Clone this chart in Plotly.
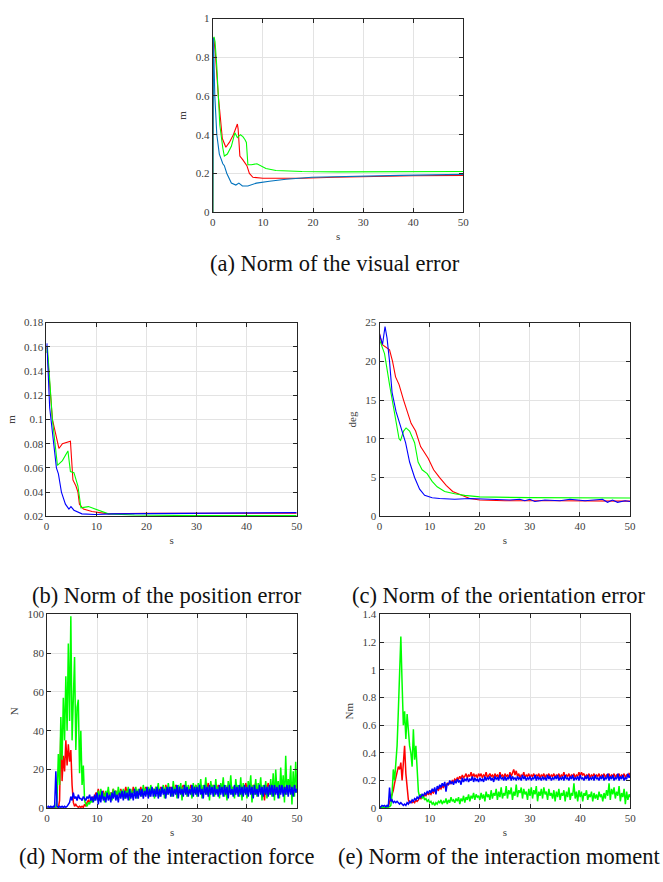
import plotly.graph_objects as go

# ---------------- data ----------------
# (a) visual error norm
va_red_t = [0, 0.04, 0.2, 0.5, 1.1, 1.6, 1.9, 2.6, 3.3, 4.1, 4.9, 5.05, 5.4, 6.0, 6.8, 7.3, 8.0, 10, 17.8, 24.4, 31, 40, 50]
va_red_v = [0, 0.88, 0.9, 0.82, 0.6, 0.45, 0.38, 0.335, 0.36, 0.4, 0.455, 0.43, 0.29, 0.27, 0.24, 0.2, 0.18, 0.175, 0.175, 0.18, 0.185, 0.188, 0.19]
va_grn_t = [0, 0.04, 0.25, 0.45, 0.8, 1.1, 1.4, 2.0, 2.3, 2.9, 3.7, 4.4, 4.9, 5.5, 6.0, 6.4, 6.7, 7.0, 7.7, 8.8, 9.6, 10.6, 12.6, 17.8, 25, 38, 50]
va_grn_v = [0, 0.89, 0.905, 0.88, 0.75, 0.6, 0.45, 0.33, 0.29, 0.3, 0.34, 0.41, 0.385, 0.4, 0.39, 0.375, 0.36, 0.245, 0.245, 0.25, 0.24, 0.225, 0.215, 0.21, 0.208, 0.21, 0.21]
va_blu_t = [0, 0.04, 0.13, 0.4, 0.8, 1.3, 2.0, 2.3, 2.8, 3.7, 4.6, 5.2, 5.9, 7.0, 8.7, 11.3, 14.6, 19.8, 27.7, 37.5, 50]
va_blu_v = [0, 0.88, 0.9, 0.6, 0.4, 0.3, 0.25, 0.24, 0.2, 0.15, 0.14, 0.15, 0.135, 0.135, 0.15, 0.16, 0.17, 0.18, 0.185, 0.19, 0.195]

# (b) position error norm
pe_red_t = [0, 0.1, 1.2, 2.2, 2.5, 3.2, 4.8, 5.3, 5.9, 6.3, 6.6, 7.4, 9.1, 12.4, 20, 35, 50]
pe_red_v = [0.158, 0.16, 0.1, 0.08, 0.076, 0.08, 0.082, 0.05, 0.045, 0.04, 0.03, 0.026, 0.024, 0.022, 0.0225, 0.0225, 0.0225]
pe_grn_t = [0, 0.2, 1.2, 2.2, 3.2, 4.3, 4.8, 5.5, 6.3, 6.9, 8.4, 10.4, 12.4, 17.6, 30, 50]
pe_grn_v = [0.155, 0.16, 0.1, 0.062, 0.066, 0.074, 0.057, 0.056, 0.045, 0.027, 0.028, 0.025, 0.022, 0.021, 0.0205, 0.0205]
pe_blu_t = [0, 0.1, 0.65, 1.5, 2.0, 2.4, 3.0, 3.8, 4.5, 4.9, 5.5, 7.1, 9.7, 13, 25, 50]
pe_blu_v = [0.16, 0.163, 0.11, 0.08, 0.06, 0.055, 0.04, 0.03, 0.026, 0.028, 0.025, 0.022, 0.0215, 0.022, 0.0225, 0.023]

# (c) orientation error norm
oe_red_t = [0, 0.5, 2, 2.6, 3.2, 3.9, 4.8, 5.6, 6.3, 7.2, 8.2, 9.7, 10.8, 12, 13.3, 14.6, 16, 18, 20, 25, 35, 50]
oe_red_v = [23.6, 22.2, 21.5, 20, 18, 17, 15, 13.5, 12, 11, 9, 7.5, 6, 5, 4, 3.2, 2.8, 2.3, 2.1, 2.0, 2.0, 1.95]
oe_grn_t = [0, 1, 2, 3, 3.9, 4.2, 4.8, 5.3, 6, 7, 7.7, 8.5, 9.5, 10.5, 11.5, 13, 15, 17, 20, 30, 50]
oe_grn_v = [22.8, 21, 17, 13, 10, 9.8, 11, 11.4, 11, 9.5, 7, 6, 5.5, 4.5, 3.8, 3.2, 2.9, 2.7, 2.5, 2.4, 2.35]
oe_blu_t = [0, 0.6, 1.1, 1.5, 2, 2.5, 3.3, 4.3, 5.2, 6, 7, 8, 9, 10.5, 12, 15, 18, 22, 26, 28, 29, 30, 31, 33, 36, 38, 41, 44.5, 45.5, 46.5, 47.5, 49, 50]
oe_blu_v = [23.5, 22.2, 24.5, 23, 20, 16, 13.5, 11.5, 9.5, 7, 5, 3.5, 2.7, 2.4, 2.3, 2.2, 2.3, 2.2, 2.1, 2.2, 2.0, 2.2, 1.9, 2.1, 2.0, 2.2, 2.0, 2.2, 1.8, 2.1, 1.8, 2.0, 1.9]

# (d), (e) sampled every 0.25 s from 0 to 50 s
t_fast = [i * 0.25 for i in range(201)]

force_red = [
    0, 0, 0, 0, 0, 0, 0, 0, 0, 0, 4, 40, 14, 27, 19, 35, 22, 33, 24, 30,
    12, 3, 1, 2, 1, 0.5, 1, 0.5, 1, 0.5, 2, 1, 3, 4, 3, 5, 4, 6, 5, 8,
    7, 10, 6, 8, 5, 9, 6, 8, 7, 9, 6, 8, 7, 10, 6, 9, 7, 8, 6, 10,
    7, 9, 8, 11, 7, 10, 8, 9, 7, 11, 8, 10, 7, 9, 8, 11, 7, 10, 9, 11,
    8, 10, 9, 11, 8, 10, 7, 11, 9, 10, 8, 11, 9, 10, 8, 12, 9, 10, 8, 11,
    9, 11, 8, 12, 9, 10, 8, 11, 10, 12, 9, 11, 8, 10, 9, 12, 10, 11, 8, 12,
    9, 11, 10, 12, 8, 11, 9, 12, 10, 13, 9, 11, 8, 12, 10, 11, 9, 12, 10, 11,
    9, 12, 10, 11, 8, 12, 10, 13, 9, 11, 10, 12, 8, 11, 9, 12, 10, 11, 9, 13,
    10, 12, 9, 11, 8, 12, 10, 13, 9, 11, 10, 12, 9, 11, 4, 12, 10, 13, 9, 11,
    10, 12, 9, 13, 8, 11, 10, 12, 9, 13, 10, 11, 9, 12, 10, 13, 9, 11, 10, 12,
    11]
force_grn = [
    0, 0, 0, 0, 0, 0, 0, 0, 5, 28, 12, 47, 25, 57, 35, 68, 40, 85, 45, 99,
    35, 65, 78, 30, 52, 56, 18, 40, 12, 22, 4, 2, 1, 3, 2, 4, 3, 5, 4, 6,
    6, 9, 4, 10, 5, 8, 3, 9, 6, 11, 5, 8, 4, 10, 6, 9, 5, 11, 7, 9,
    6, 10, 5, 9, 7, 11, 4, 10, 6, 9, 8, 11, 5, 10, 7, 9, 6, 12, 8, 10,
    7, 11, 6, 12, 8, 10, 5, 11, 9, 13, 6, 10, 8, 12, 5, 11, 7, 13, 9, 10,
    6, 14, 8, 11, 5, 12, 9, 13, 4, 11, 8, 14, 6, 12, 9, 10, 5, 13, 8, 12,
    6, 13, 9, 15, 5, 12, 8, 16, 7, 11, 4, 14, 9, 12, 6, 15, 8, 11, 5, 13,
    9, 16, 6, 12, 4, 14, 8, 17, 7, 11, 5, 15, 9, 12, 6, 16, 4, 13, 8, 11,
    5, 14, 9, 17, 3, 12, 7, 15, 6, 13, 9, 16, 4, 12, 8, 14, 5, 11, 7, 15,
    6, 18, 4, 20, 9, 14, 5, 21, 8, 17, 3, 27, 7, 15, 10, 22, 2, 19, 6, 24,
    8]
force_blu = [
    0.5, 1, 0.5, 1, 0.5, 1, 0.5, 19, 1, 0.5, 1, 0.5, 1, 0.5, 1, 0.5, 1, 2, 3, 6,
    4, 8, 5, 6, 4, 7, 5, 5, 4, 6, 5, 4, 6, 5, 7, 4, 6, 3, 7, 4,
    8, 2, 7, 3, 9, 4, 6, 3, 8, 4, 7, 3, 8, 5, 9, 4, 7, 3, 8, 5,
    9, 4, 9, 5, 8, 4, 10, 5, 8, 4, 10, 5, 9, 5, 10, 6, 10, 5, 9, 6,
    11, 5, 10, 6, 11, 6, 10, 6, 11, 5, 10, 6, 11, 7, 10, 5, 11, 7, 11, 6,
    11, 6, 10, 7, 12, 5, 11, 7, 10, 6, 12, 7, 11, 6, 10, 7, 12, 6, 11, 7,
    11, 6, 12, 7, 10, 5, 12, 7, 11, 6, 12, 7, 11, 6, 12, 7, 10, 6, 12, 7,
    11, 6, 12, 7, 11, 5, 12, 7, 10, 6, 12, 7, 11, 6, 12, 7, 11, 6, 12, 7,
    11, 6, 12, 7, 11, 5, 12, 7, 10, 6, 12, 7, 11, 6, 12, 7, 11, 6, 12, 7,
    12, 6, 12, 7, 11, 5, 12, 7, 12, 6, 11, 7, 12, 6, 12, 7, 11, 6, 12, 8,
    10]

moment_red = [
    0, 0, 0.005, 0.01, 0.005, 0.01, 0.005, 0.01, 0.05, 0.08, 0.1, 0.13, 0.18, 0.22, 0.27, 0.3, 0.28, 0.33, 0.2, 0.3,
    0.45, 0.25, 0.12, 0.06, 0.04, 0.05, 0.04, 0.05, 0.04, 0.06, 0.05, 0.06, 0.08, 0.07, 0.09, 0.08, 0.1, 0.09, 0.11, 0.1,
    0.11, 0.1, 0.12, 0.11, 0.13, 0.12, 0.14, 0.13, 0.15, 0.14, 0.16, 0.15, 0.17, 0.16, 0.18, 0.17, 0.19, 0.18, 0.2, 0.19,
    0.21, 0.2, 0.22, 0.21, 0.23, 0.21, 0.24, 0.22, 0.23, 0.25, 0.22, 0.24, 0.23, 0.26, 0.22, 0.25, 0.23, 0.24, 0.22, 0.25,
    0.23, 0.25, 0.22, 0.24, 0.23, 0.26, 0.22, 0.24, 0.25, 0.23, 0.24, 0.22, 0.25, 0.23, 0.24, 0.22, 0.26, 0.23, 0.24, 0.22,
    0.25, 0.23, 0.24, 0.22, 0.26, 0.23, 0.25, 0.28, 0.24, 0.27, 0.23, 0.25, 0.22, 0.24, 0.23, 0.26, 0.22, 0.24, 0.23, 0.25,
    0.22, 0.24, 0.23, 0.25, 0.22, 0.24, 0.23, 0.25, 0.22, 0.24, 0.23, 0.25, 0.22, 0.24, 0.23, 0.25, 0.22, 0.24, 0.23, 0.25,
    0.22, 0.24, 0.23, 0.25, 0.22, 0.24, 0.23, 0.26, 0.22, 0.24, 0.23, 0.25, 0.22, 0.24, 0.23, 0.25, 0.22, 0.24, 0.23, 0.26,
    0.23, 0.26, 0.24, 0.25, 0.22, 0.24, 0.23, 0.25, 0.22, 0.24, 0.23, 0.25, 0.22, 0.24, 0.23, 0.25, 0.22, 0.24, 0.23, 0.25,
    0.22, 0.24, 0.23, 0.25, 0.22, 0.24, 0.23, 0.25, 0.22, 0.24, 0.23, 0.25, 0.22, 0.24, 0.23, 0.25, 0.22, 0.24, 0.23, 0.25,
    0.24]
moment_grn = [
    0, 0.01, 0, 0.01, 0, 0.01, 0, 0.01, 0.01, 0.02, 0.1, 0.28, 0.2, 0.3, 0.45, 0.7, 0.95, 1.24, 0.9, 0.6,
    0.7, 0.5, 0.68, 0.55, 0.45, 0.4, 0.3, 0.57, 0.35, 0.45, 0.25, 0.12, 0.08, 0.1, 0.07, 0.09, 0.06, 0.07, 0.05, 0.06,
    0.04, 0.05, 0.03, 0.04, 0.02, 0.04, 0.03, 0.05, 0.04, 0.06, 0.03, 0.05, 0.04, 0.07, 0.03, 0.06, 0.04, 0.08, 0.05, 0.06,
    0.04, 0.07, 0.05, 0.08, 0.03, 0.07, 0.05, 0.09, 0.04, 0.08, 0.06, 0.1, 0.05, 0.09, 0.07, 0.11, 0.06, 0.1, 0.08, 0.09,
    0.06, 0.11, 0.07, 0.1, 0.05, 0.12, 0.08, 0.1, 0.06, 0.13, 0.07, 0.11, 0.09, 0.14, 0.06, 0.12, 0.08, 0.15, 0.07, 0.11,
    0.09, 0.16, 0.07, 0.13, 0.1, 0.15, 0.06, 0.12, 0.09, 0.17, 0.08, 0.13, 0.11, 0.15, 0.07, 0.14, 0.1, 0.12, 0.06, 0.14,
    0.09, 0.15, 0.07, 0.13, 0.1, 0.16, 0.05, 0.12, 0.09, 0.14, 0.07, 0.15, 0.1, 0.12, 0.06, 0.14, 0.09, 0.11, 0.07, 0.13,
    0.05, 0.12, 0.08, 0.14, 0.06, 0.11, 0.09, 0.13, 0.05, 0.12, 0.08, 0.15, 0.06, 0.11, 0.09, 0.18, 0.07, 0.12, 0.05, 0.13,
    0.08, 0.12, 0.05, 0.11, 0.09, 0.13, 0.06, 0.1, 0.08, 0.12, 0.05, 0.11, 0.07, 0.1, 0.06, 0.12, 0.08, 0.1, 0.05, 0.11,
    0.07, 0.13, 0.09, 0.18, 0.06, 0.14, 0.1, 0.15, 0.07, 0.12, 0.09, 0.16, 0.05, 0.11, 0.08, 0.14, 0.03, 0.12, 0.06, 0.1,
    0.08]
moment_blu = [
    0, 0.01, 0.02, 0.015, 0.02, 0.01, 0.02, 0.01, 0.15, 0.05, 0.06, 0.04, 0.05, 0.04, 0.05, 0.04, 0.03, 0.04, 0.03, 0.02,
    0.03, 0.02, 0.04, 0.03, 0.05, 0.04, 0.06, 0.05, 0.07, 0.06, 0.08, 0.07, 0.09, 0.08, 0.1, 0.09, 0.11, 0.1, 0.12, 0.11,
    0.13, 0.11, 0.14, 0.12, 0.15, 0.1, 0.16, 0.14, 0.17, 0.15, 0.18, 0.16, 0.19, 0.12, 0.18, 0.17, 0.2, 0.18, 0.19, 0.17,
    0.2, 0.18, 0.21, 0.19, 0.2, 0.17, 0.22, 0.19, 0.21, 0.2, 0.22, 0.19, 0.21, 0.2, 0.23, 0.19, 0.22, 0.2, 0.21, 0.19,
    0.22, 0.2, 0.21, 0.19, 0.23, 0.2, 0.22, 0.21, 0.23, 0.2, 0.22, 0.19, 0.23, 0.21, 0.22, 0.2, 0.24, 0.21, 0.22, 0.2,
    0.23, 0.2, 0.22, 0.21, 0.24, 0.2, 0.23, 0.21, 0.22, 0.2, 0.23, 0.21, 0.22, 0.2, 0.24, 0.21, 0.23, 0.2, 0.22, 0.21,
    0.23, 0.2, 0.22, 0.21, 0.24, 0.2, 0.23, 0.21, 0.22, 0.2, 0.23, 0.21, 0.22, 0.2, 0.24, 0.21, 0.23, 0.2, 0.22, 0.21,
    0.23, 0.21, 0.24, 0.2, 0.22, 0.21, 0.23, 0.2, 0.24, 0.21, 0.22, 0.2, 0.23, 0.21, 0.24, 0.2, 0.22, 0.21, 0.23, 0.2,
    0.24, 0.21, 0.22, 0.2, 0.23, 0.21, 0.24, 0.2, 0.22, 0.21, 0.23, 0.2, 0.24, 0.21, 0.22, 0.2, 0.23, 0.21, 0.24, 0.2,
    0.22, 0.21, 0.25, 0.2, 0.23, 0.21, 0.24, 0.2, 0.22, 0.21, 0.25, 0.2, 0.23, 0.21, 0.24, 0.2, 0.22, 0.21, 0.25, 0.22,
    0.24]

x_ticks = [0, 10, 20, 30, 40, 50]
ya_ticks = [0, 0.2, 0.4, 0.6, 0.8, 1]
ya_text = ["0", "0.2", "0.4", "0.6", "0.8", "1"]
yb_ticks = [0.02, 0.04, 0.06, 0.08, 0.1, 0.12, 0.14, 0.16, 0.18]
yb_text = ["0.02", "0.04", "0.06", "0.08", "0.1", "0.12", "0.14", "0.16", "0.18"]
yc_ticks = [0, 5, 10, 15, 20, 25]
yd_ticks = [0, 20, 40, 60, 80, 100]
ye_ticks = [0, 0.2, 0.4, 0.6, 0.8, 1, 1.2, 1.4]
ye_text = ["0", "0.2", "0.4", "0.6", "0.8", "1", "1.2", "1.4"]

captions = ["(a) Norm of the visual error", "(b) Norm of the position error",
            "(c) Norm of the orientation error", "(d) Norm of the interaction force",
            "(e) Norm of the interaction moment"]
y_titles = ["m", "m", "deg", "N", "Nm"]
x_title = "s"

RED = "#ff0000"
GRN = "#00ff00"
BLU = "#0000ff"
BLU_A = "#0072bd"

W, H = 663, 882
FONT = "Liberation Serif"

# ---------------- figure ----------------
fig = go.Figure()

def add(x, y, color, ax, width):
    fig.add_trace(go.Scatter(x=x, y=y, mode="lines", line=dict(color=color, width=width),
                             xaxis="x" + ax, yaxis="y" + ax, showlegend=False, hoverinfo="skip"))

add(va_red_t, va_red_v, RED, "", 1.1)
add(va_grn_t, va_grn_v, GRN, "", 1.1)
add(va_blu_t, va_blu_v, BLU_A, "", 1.1)

add(pe_red_t, pe_red_v, RED, "2", 1.1)
add(pe_grn_t, pe_grn_v, GRN, "2", 1.1)
add(pe_blu_t, pe_blu_v, BLU, "2", 1.1)

add(oe_red_t, oe_red_v, RED, "3", 1.1)
add(oe_grn_t, oe_grn_v, GRN, "3", 1.1)
add(oe_blu_t, oe_blu_v, BLU, "3", 1.1)

add(t_fast, force_red, RED, "4", 1.5)
add(t_fast, force_grn, GRN, "4", 1.5)
add(t_fast, force_blu, BLU, "4", 1.5)

add(t_fast, moment_red, RED, "5", 1.5)
add(t_fast, moment_grn, GRN, "5", 1.5)
add(t_fast, moment_blu, BLU, "5", 1.5)

# axis boxes in pixels: (left, right, top, bottom)
boxes = [(212.7, 466.7, 12.7, 209.0),
         (44.0, 297.7, 321.0, 517.3),
         (381.7, 635.7, 321.0, 517.3),
         (44.7, 298.0, 616.7, 813.3),
         (381.7, 636.0, 616.7, 813.3)]
yranges = [[0, 1], [0.02, 0.18], [0, 25], [0, 100], [0, 1.4]]
yticks = [(ya_ticks, ya_text), (yb_ticks, yb_text), (yc_ticks, [str(v) for v in yc_ticks]),
          (yd_ticks, [str(v) for v in yd_ticks]), (ye_ticks, ye_text)]

common = dict(showline=True, linecolor="#262626", linewidth=1, mirror="allticks",
              ticks="inside", ticklen=4, tickcolor="#262626", showgrid=True,
              gridcolor="#e3e3e3", gridwidth=1, zeroline=False,
              tickfont=dict(family=FONT, size=11, color="#404040"))

layout_axes = {}
for i, (l, r, t, b) in enumerate(boxes):
    sfx = "" if i == 0 else str(i + 1)
    anchor = "x" + sfx
    layout_axes["xaxis" + sfx] = dict(domain=[l / W, r / W], anchor="y" + sfx, range=[0, 50],
                                      tickvals=x_ticks, ticktext=[str(v) for v in x_ticks],
                                      title=dict(text=x_title, standoff=4,
                                                 font=dict(family=FONT, size=11, color="#404040")),
                                      **common)
    layout_axes["yaxis" + sfx] = dict(domain=[1 - b / H, 1 - t / H], anchor=anchor, range=yranges[i],
                                      tickvals=yticks[i][0], ticktext=yticks[i][1],
                                      title=dict(text=y_titles[i], standoff=6,
                                                 font=dict(family=FONT, size=11, color="#404040")),
                                      **common)

cap_pos = [(337, 261), (166, 598), (503, 598), (166, 862), (503, 862)]
annotations = [dict(text=c, x=px / W, y=1 - py / H, xref="paper", yref="paper",
                    showarrow=False, xanchor="center", yanchor="middle",
                    font=dict(family=FONT, size=22.5, color="#111111"))
               for c, (px, py) in zip(captions, cap_pos)]

fig.update_layout(width=W, height=H, margin=dict(l=0, r=0, t=0, b=0),
                  paper_bgcolor="white", plot_bgcolor="white",
                  annotations=annotations, **layout_axes)

fig.write_html("out.html", config={"displayModeBar": False},
               post_script="document.body.style.margin='0';")
